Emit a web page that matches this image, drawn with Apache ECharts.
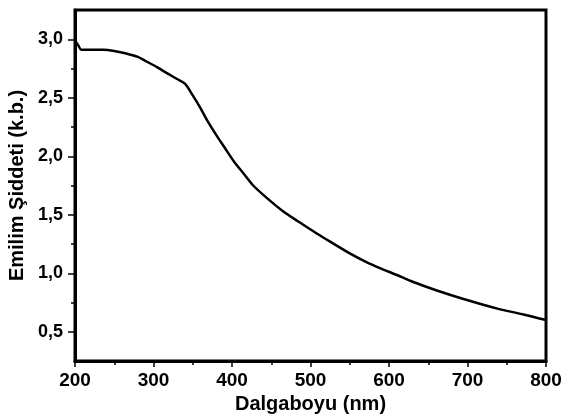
<!DOCTYPE html>
<html>
<head>
<meta charset="utf-8">
<script src="https://cdn.jsdelivr.net/npm/echarts@6/dist/echarts.min.js"></script>
<style>
html,body{margin:0;padding:0;background:#fff;}
#chart{width:561px;height:417px;}
</style>
</head>
<body>
<div id="chart"></div>
<script>
// spectrum
var wavelength=[200,204,208,220,236,250,264,280,291,305,317,330,340,350,360,368,380,391,402,415,427,445,465,485,508,525,550,570,590,610,631,660,695,737,770,800];
var intensity=[2.99,2.95,2.91,2.91,2.91,2.90,2.88,2.85,2.81,2.76,2.71,2.66,2.62,2.52,2.41,2.31,2.18,2.07,1.96,1.85,1.75,1.64,1.53,1.44,1.34,1.27,1.17,1.10,1.04,0.985,0.925,0.855,0.78,0.70,0.65,0.60];
var yTicks=[0.5,1.0,1.5,2.0,2.5,3.0];
var yMinorTicks=[0.75,1.25,1.75,2.25,2.75];
var xTicks=[200,300,400,500,600,700,800];

var font='"Liberation Sans", Arial, sans-serif';
function comma(v){
    return v.toFixed(1).replace('.',',');
}
var points=[];
for(var i=0;i<wavelength.length;i++){
    points.push([wavelength[i],intensity[i]]);
}

var option={
    backgroundColor:'#fff',
    animation:false,
    grid:{
        left:75,
        right:15,
        top:10,
        bottom:56,
        outerBoundsMode:'none',
        containLabel:false,
        show:true,
        borderColor:'#000',
        borderWidth:3
    },
    xAxis:{
        type:'value',
        min:xTicks[0],
        max:xTicks[xTicks.length-1],
        interval:100,
        name:'Dalgaboyu (nm)',
        nameLocation:'middle',
        nameGap:26,
        nameTextStyle:{color:'#000',fontFamily:font,fontWeight:'bold',fontSize:20},
        axisLine:{lineStyle:{color:'#000',width:3}},
        axisTick:{length:6,lineStyle:{color:'#000',width:1.5}},
        minorTick:{show:true,splitNumber:2,length:4,lineStyle:{color:'#000',width:1.5}},
        splitLine:{show:false},
        axisLabel:{color:'#000',fontFamily:font,fontWeight:'bold',fontSize:19,margin:10}
    },
    yAxis:[{
        type:'value',
        min:0.25,
        max:3.25,
        name:'Emilim Şiddeti (k.b.)',
        nameLocation:'middle',
        nameGap:41,
        nameTextStyle:{color:'#000',fontFamily:font,fontWeight:'bold',fontSize:20},
        axisLine:{show:true,lineStyle:{color:'#000',width:3}},
        axisTick:{show:true,length:7,customValues:yTicks,lineStyle:{color:'#000',width:1.5}},
        splitLine:{show:false},
        axisLabel:{color:'#000',fontFamily:font,fontWeight:'bold',fontSize:18,margin:12,
            customValues:yTicks,formatter:function(v){return comma(v);}}
    },{
        type:'value',
        position:'left',
        min:0.25,
        max:3.25,
        axisLine:{show:false},
        axisTick:{show:true,length:4,customValues:yMinorTicks,lineStyle:{color:'#000',width:1.5}},
        splitLine:{show:false},
        axisLabel:{show:false}
    }],
    series:[{
        type:'line',
        data:points,
        showSymbol:false,
        smooth:0.3,
        lineStyle:{color:'#000',width:2.5},
        z:3
    }]
};
var chart=echarts.init(document.getElementById('chart'));
chart.setOption(option);
</script>
</body>
</html>
